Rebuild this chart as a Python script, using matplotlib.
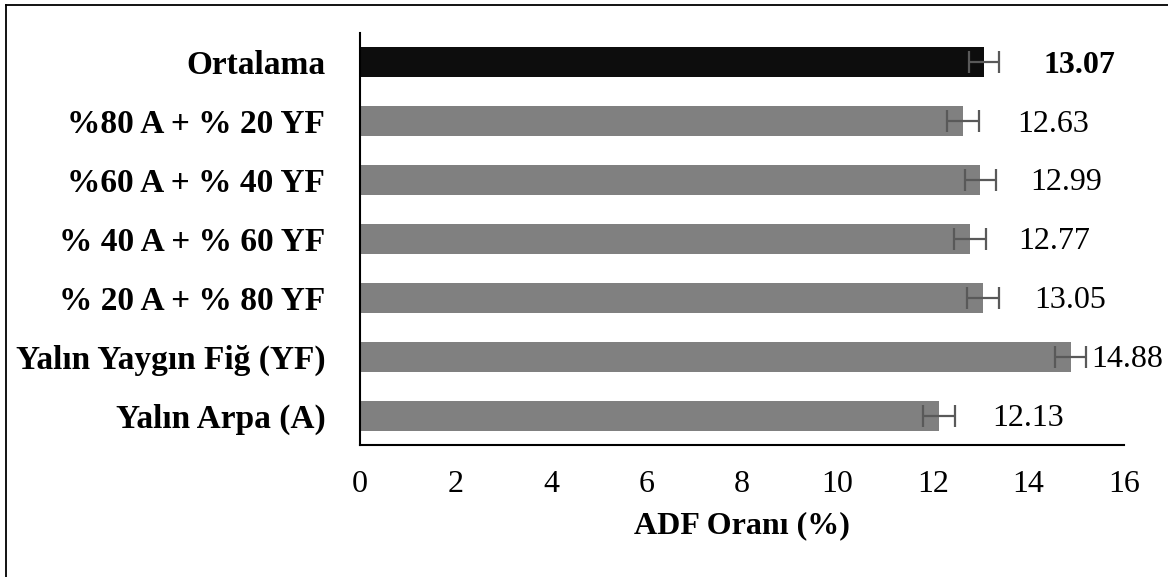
import numpy as np
import matplotlib
matplotlib.use('Agg')
import matplotlib.pyplot as plt
from matplotlib.lines import Line2D

# data (bottom to top as drawn)
categories = ['Yalın Arpa (A)', 'Yalın Yaygın Fiğ (YF)', '% 20 A + % 80 YF',
              '% 40 A + % 60 YF', '%60 A + % 40 YF', '%80 A + % 20 YF', 'Ortalama']
values = [12.13, 14.88, 13.05, 12.77, 12.99, 12.63, 13.07]
errors = [0.33, 0.33, 0.33, 0.33, 0.33, 0.33, 0.32]
xticks = [0, 2, 4, 6, 8, 10, 12, 14, 16]

# label offsets past bar end, in pixels (as placed in the original)
label_offsets = [53, 21, 51, 48, 50, 54, 59]

plt.rcParams['font.family'] = ['Liberation Serif', 'DejaVu Serif']

fig = plt.figure(figsize=(11.68, 5.77), dpi=100)
ax = fig.add_axes([360/1168, 1 - 445/577, (1124 - 360)/1168, (445 - 33)/577])

colors = ['#808080'] * (len(values) - 1) + ['#0d0d0d']
y = np.arange(len(categories))
ax.barh(y, values, height=0.51, color=colors)
ax.errorbar(values, y, xerr=errors, fmt='none', ecolor='#595959',
            elinewidth=1.6, capsize=8, capthick=1.6)

for i, (v, off) in enumerate(zip(values, label_offsets)):
    bold = categories[i] == 'Ortalama'
    ax.annotate(f'{v:.2f}', xy=(v, y[i]), xytext=(off * 0.72, -2),
                textcoords='offset points', ha='left', va='center',
                fontsize=23, fontweight='bold' if bold else 'normal')

ax.set_xlim(0, 16)
ax.set_ylim(-0.5, len(categories) - 0.5)
ax.set_xticks(xticks)
ax.set_xticklabels([str(t) for t in xticks])
ax.set_yticks(y)
ax.set_yticklabels(categories, fontweight='bold')
ax.tick_params(axis='x', length=0, pad=18, labelsize=23)
ax.tick_params(axis='y', length=0, pad=25, labelsize=24)
ax.set_xlabel('ADF Oranı (%)', fontsize=23, fontweight='bold', labelpad=9)

for s in ['top', 'right']:
    ax.spines[s].set_visible(False)
ax.spines['left'].set_linewidth(1.5)
ax.spines['bottom'].set_linewidth(1.5)

# outer frame (only top and left edges visible in the crop)
fig.add_artist(Line2D([5.5/1168, 5.5/1168], [0, 1 - 4.5/577], color='black', lw=1.3,
                      transform=fig.transFigure))
fig.add_artist(Line2D([5.5/1168, 1], [1 - 4.5/577, 1 - 4.5/577], color='black', lw=1.3,
                      transform=fig.transFigure))

plt.savefig('out.png', dpi=100)
